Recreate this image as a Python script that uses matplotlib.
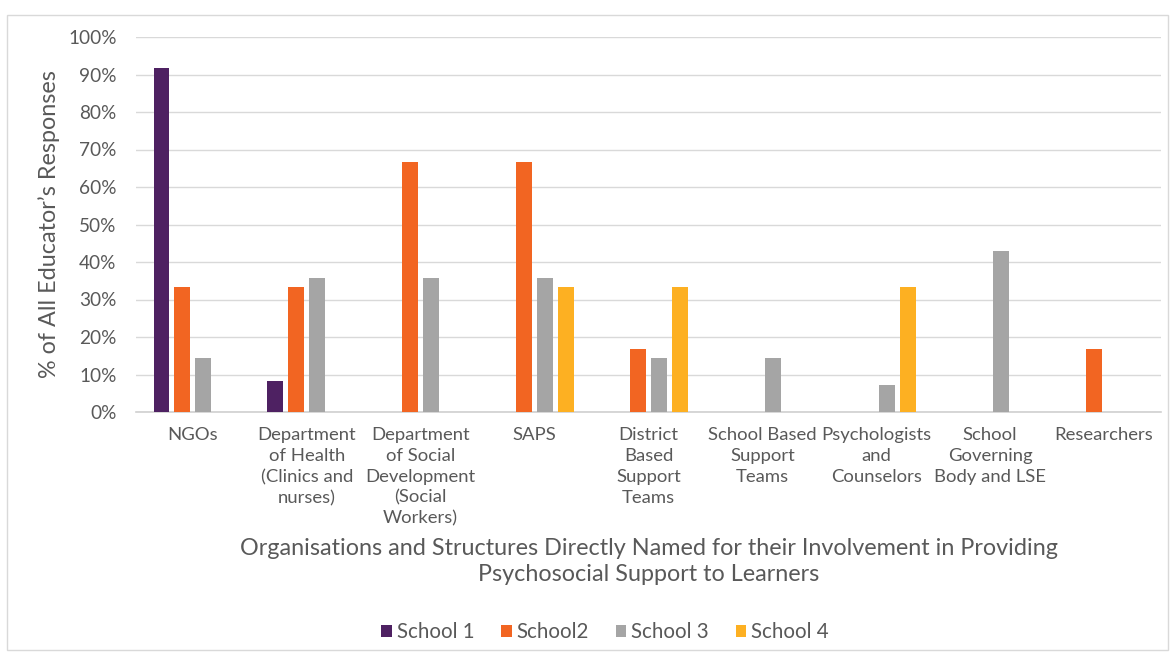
import matplotlib
matplotlib.use("Agg")
import matplotlib.pyplot as plt
import numpy as np
from matplotlib.ticker import PercentFormatter
from matplotlib.patches import Rectangle

categories = ["NGOs", "Department\nof Health\n(Clinics and\nnurses)",
              "Department\nof Social\nDevelopment\n(Social\nWorkers)", "SAPS",
              "District\nBased\nSupport\nTeams", "School Based\nSupport\nTeams",
              "Psychologists\nand\nCounselors", "School\nGoverning\nBody and LSE",
              "Researchers"]
series_names = ["School 1", "School2", "School 3", "School 4"]
school1 = [91.7, 8.3, 0, 0, 0, 0, 0, 0, 0]
school2 = [33.3, 33.3, 66.7, 66.7, 16.7, 0, 0, 0, 16.7]
school3 = [14.3, 35.7, 35.7, 35.7, 14.3, 14.3, 7.1, 42.9, 0]
school4 = [0, 0, 0, 33.3, 33.3, 0, 33.3, 0, 0]
colors = ["#4E2162", "#F26522", "#A5A5A5", "#FDB022"]

plt.rcParams['font.family'] = ['Lato', 'DejaVu Sans']
text_color = "#595959"

fig = plt.figure(figsize=(11.71, 6.52), dpi=100)
fig.patches.append(Rectangle((7/1171, 2/652), 1161/1171, 635/652, transform=fig.transFigure,
                             fill=False, edgecolor="#D9D9D9", linewidth=1))
ax = fig.add_axes([136/1171, 1-412/652, 1025/1171, 375/652])

x = np.arange(len(categories))
step = 0.184
width = 0.14
all_series = [school1, school2, school3, school4]
for i, (vals, name, c) in enumerate(zip(all_series, series_names, colors)):
    ax.bar(x + (i - 1.5) * step, vals, width=width, color=c, label=name, linewidth=0, zorder=3)

ax.set_xlim(-0.5, len(categories) - 0.5)
ax.set_ylim(0, 100)
ax.set_yticks(np.arange(0, 101, 10))
ax.yaxis.set_major_formatter(PercentFormatter(decimals=0))
ax.grid(axis='y', color="#D9D9D9", linewidth=1, zorder=0)
for s in ["top", "right", "left"]:
    ax.spines[s].set_visible(False)
ax.spines["bottom"].set_color("#D0D0D0")
ax.spines["bottom"].set_linewidth(1.2)
ax.tick_params(axis='both', length=0, colors=text_color)
ax.tick_params(axis='y', labelsize=13.7, pad=14)
ax.set_xticks(x)
ax.set_xticklabels(categories, fontsize=13.3, linespacing=1.37, color=text_color, va='top')
ax.tick_params(axis='x', pad=11)

ax.set_ylabel("% of All Educator\u2019s Responses", fontsize=16.8, color=text_color, labelpad=6)
ax.set_xlabel("Organisations and Structures Directly Named for their Involvement in Providing\nPsychosocial Support to Learners",
              fontsize=16.8, color=text_color, labelpad=8, linespacing=1.3)

leg = fig.legend(loc='center', bbox_to_anchor=(605/1171, 1-632/652), ncol=4, frameon=False,
                 fontsize=14.8, handlelength=0.5, handleheight=0.5, handletextpad=0.25,
                 columnspacing=1.3, labelcolor=text_color)

fig.savefig("out.png", dpi=100, facecolor="white")
